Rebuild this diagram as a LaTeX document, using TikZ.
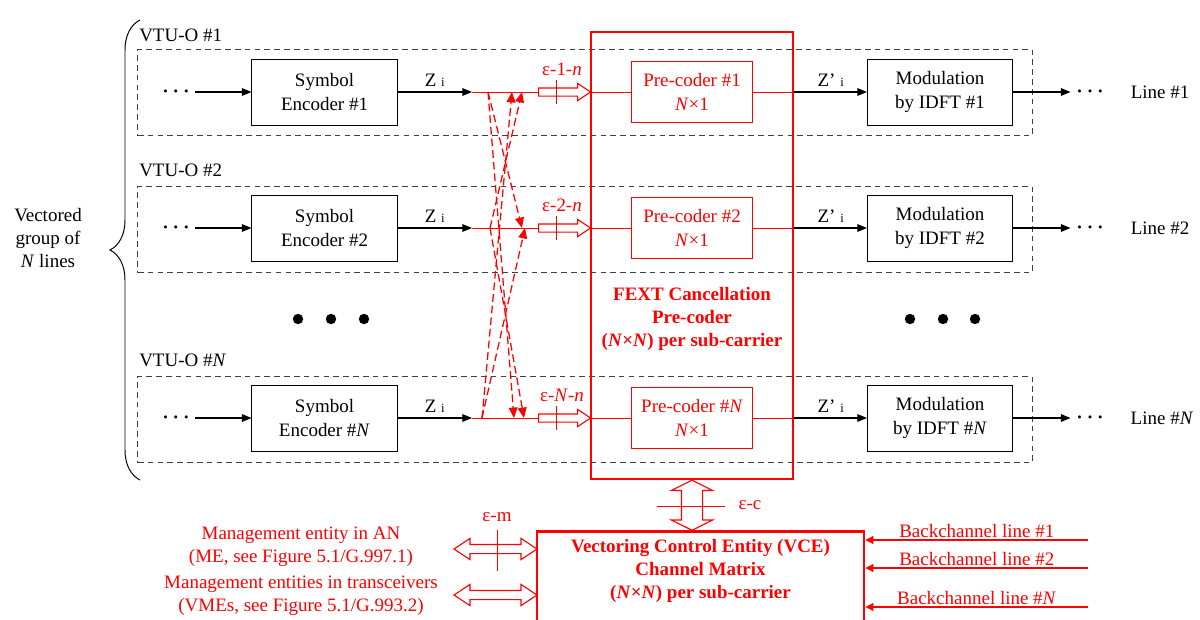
\documentclass[tikz,border=0pt]{standalone}
\usepackage{fontspec}
\setmainfont{Liberation Serif}
\usetikzlibrary{positioning,arrows.meta,calc,shapes.arrows,decorations.pathreplacing}
\newcommand\figfont{\fontsize{13.5}{16.5}\selectfont}
\newcommand\subi{{\fontsize{9}{10}\selectfont i}}

\begin{document}
\begin{tikzpicture}[
  x=0.025cm, y=-0.025cm,
  font=\figfont,
  box/.style={draw, line width=0.7pt, align=center, inner sep=1pt,
              minimum width=3.625cm, minimum height=1.65cm},
  pcbox/.style={draw=red, text=red, line width=0.9pt, align=center,
                minimum width=3.025cm, minimum height=1.525cm},
  grp/.style={draw=black!75, line width=0.7pt, dash pattern=on 4pt off 3pt,
              minimum width=22.35cm, minimum height=2.15cm},
  bigbox/.style={draw=red, line width=2pt},
  arr/.style={line width=0.8pt, -{Triangle[length=2.4mm, width=1.9mm]}},
  rline/.style={red, line width=0.7pt},
  xarr/.style={red, line width=0.9pt, dash pattern=on 5.5pt off 2.8pt,
               -{Triangle[length=2.6mm, width=2.2mm]}},
  barr/.style={red, line width=0.8pt, -{Triangle[length=2mm, width=2mm]}},
  hollow/.style={single arrow, draw=red, line width=0.8pt, inner xsep=0pt,
                 inner ysep=0.0875cm, single arrow head extend=0.1125cm,
                 single arrow tip angle=67, minimum height=1.3cm},
  ecarr/.style={double arrow, draw=red, line width=0.8pt, rotate=90,
                inner xsep=0pt, inner ysep=0.25cm, double arrow head extend=0.25cm,
                double arrow tip angle=127, minimum height=1.25cm},
  emarr/.style={double arrow, draw=red, line width=0.8pt, inner xsep=0pt,
                inner ysep=0.1cm, double arrow head extend=0.15cm,
                double arrow tip angle=67, minimum height=2.075cm},
  rtxt/.style={text=red, align=center},
  btxt/.style={text=red, align=center, font=\figfont\bfseries},
  dots/.style={font=\fontsize{14}{14}\selectfont\boldmath, inner sep=4pt}
]
\useasboundingbox (0,0) rectangle (1200,619);
\clip (0,0) rectangle (1200,619);

% Vectored group brace and its label.
\draw[decorate, decoration={brace, amplitude=0.75cm}, line width=0.7pt] (140,480) -- (140,20);
\node[align=center] (vgrp) at (48,238) {Vectored\\group of\\\textit{N} lines};

% Dashed VTU-O frames.
\node[grp] (g1) at (585,92.5) {};
\node[grp] (g2) at (585,229.5) {};
\node[grp] (gN) at (585,419.5) {};
\node[anchor=west, inner sep=0pt] (vtu1) at (139,35) {VTU-O \#1};
\node[anchor=west, inner sep=0pt] (vtu2) at (139,170) {VTU-O \#2};
\node[anchor=west, inner sep=0pt] (vtuN) at (139,360) {VTU-O \#\textit{N}};

% FEXT cancellation pre-coder spans all lines.
\node[bigbox, minimum width=5.05cm, minimum height=11.175cm] (fext) at (692,255.5) {};
\node[btxt] (fexttxt) at (692,319) {FEXT Cancellation\\Pre-coder\\(\textit{N}×\textit{N}) per sub-carrier};

% Line 1.
\node[dots] (in1) at (176,92) {$\cdots$};
\node[box] (enc1) at (324.5,92) {Symbol\\Encoder \#1};
\coordinate (z1) at (472,92);
\node[hollow, anchor=tail] (h1) at (538,92) {};
\node[pcbox] (pc1) at (692,92) {Pre-coder \#1\\\textit{N}×1};
\node[box] (mod1) at (940,92) {Modulation\\by IDFT \#1};
\node[dots] (out1) at (1090,92) {$\cdots$};
\node (line1) at (1160,92) {Line \#1};
\draw[arr] (in1) -- (enc1);
\draw[arr] (enc1.east) -- (z1) node[midway, above] {Z \subi};
\draw[rline] (z1) -- (h1.tail);
\draw[rline] ($(h1.tail)+(18,-12)$) -- ++(0,24);
\node[text=red] (e1) at (562,69) {ε-1-\textit{n}};
\draw[rline] (h1.tip) -- (pc1.west);
\draw[rline] (pc1.east) -- (pc1.east -| fext.east);
\draw[arr] (pc1.east -| fext.east) -- (mod1) node[midway, above] {Z’ \subi};
\draw[arr] (mod1) -- (out1);

% Line 2.
\node[dots] (in2) at (176,228) {$\cdots$};
\node[box] (enc2) at (324.5,228) {Symbol\\Encoder \#2};
\coordinate (z2) at (472,228);
\node[hollow, anchor=tail] (h2) at (538,228) {};
\node[pcbox] (pc2) at (692,228) {Pre-coder \#2\\\textit{N}×1};
\node[box] (mod2) at (940,228) {Modulation\\by IDFT \#2};
\node[dots] (out2) at (1090,228) {$\cdots$};
\node (line2) at (1160,228) {Line \#2};
\draw[arr] (in2) -- (enc2);
\draw[arr] (enc2.east) -- (z2) node[midway, above] {Z \subi};
\draw[rline] (z2) -- (h2.tail);
\draw[rline] ($(h2.tail)+(18,-12)$) -- ++(0,24);
\node[text=red] (e2) at (562,205) {ε-2-\textit{n}};
\draw[rline] (h2.tip) -- (pc2.west);
\draw[rline] (pc2.east) -- (pc2.east -| fext.east);
\draw[arr] (pc2.east -| fext.east) -- (mod2) node[midway, above] {Z’ \subi};
\draw[arr] (mod2) -- (out2);

% Line N.
\node[dots] (inN) at (176,418) {$\cdots$};
\node[box] (encN) at (324.5,418) {Symbol\\Encoder \#\textit{N}};
\coordinate (zN) at (472,418);
\node[hollow, anchor=tail] (hN) at (538,418) {};
\node[pcbox] (pcN) at (692,418) {Pre-coder \#\textit{N}\\\textit{N}×1};
\node[box] (modN) at (940,418) {Modulation\\by IDFT \#\textit{N}};
\node[dots] (outN) at (1090,418) {$\cdots$};
\node (lineN) at (1162,418) {Line \#\textit{N}};
\draw[arr] (inN) -- (encN);
\draw[arr] (encN.east) -- (zN) node[midway, above] {Z \subi};
\draw[rline] (zN) -- (hN.tail);
\draw[rline] ($(hN.tail)+(18,-12)$) -- ++(0,24);
\node[text=red] (eN) at (562,395) {ε-\textit{N}-\textit{n}};
\draw[rline] (hN.tip) -- (pcN.west);
\draw[rline] (pcN.east) -- (pcN.east -| fext.east);
\draw[arr] (pcN.east -| fext.east) -- (modN) node[midway, above] {Z’ \subi};
\draw[arr] (modN) -- (outN);

% Omitted lines.
\fill (298,319) circle (0.13cm) (331,319) circle (0.13cm) (364,319) circle (0.13cm);
\fill (910,319) circle (0.13cm) (943,319) circle (0.13cm) (975,319) circle (0.13cm);

% Crosstalk paths between lines.
\coordinate (x1s) at (488,92);  \coordinate (x1a) at (512,92);  \coordinate (x1b) at (522,92);
\coordinate (x2s) at (490,228); \coordinate (x2a) at (522,228); \coordinate (x2b) at (525,228);
\coordinate (xNs) at (482,418); \coordinate (xNa) at (514,418); \coordinate (xNb) at (524,418);
\draw[xarr] (x1s) -- (x2a);
\draw[xarr] (x1s) -- (xNa);
\draw[xarr] (x2s) -- (x1b);
\draw[xarr] (x2s) -- (xNb);
\draw[xarr] (xNs) -- (x1a);
\draw[xarr] (xNs) -- (x2b);

% Vectoring control entity, open at the bottom edge.
\node[bigbox, minimum width=8.175cm, minimum height=3cm, anchor=north] (vce) at (700.5,530) {};
\node[btxt] (vcetxt) at (700.5,571) {Vectoring Control Entity (VCE)\\Channel Matrix\\(\textit{N}×\textit{N}) per sub-carrier};

% epsilon-c between pre-coder and VCE.
\node[ecarr] (ec) at ($(fext.south)!0.5!(fext.south |- vce.north)$) {};
\draw[rline] ($(ec)+(-35,1)$) -- ++(68,0);
\node[text=red] (eclbl) at (750,505) {ε-c};

% epsilon-m towards management entities.
\node[emarr] (me1) at (495.5,549) {};
\node[emarr] (me2) at (495.5,595) {};
\draw[rline] ($(me1)+(2,-19)$) -- ++(0,41);
\node[text=red] (emlbl) at (497,517) {ε-m};
\node[rtxt] (mgmt1) at (301,547) {Management entity in AN\\(ME, see Figure 5.1/G.997.1)};
\node[rtxt] (mgmt2) at (301,596) {Management entities in transceivers\\(VMEs, see Figure 5.1/G.993.2)};

% Backchannels into the VCE.
\coordinate (bc1) at (1088,540);
\coordinate (bc2) at (1088,568);
\coordinate (bcN) at (1088,607);
\draw[barr] (bc1) -- (bc1 -| vce.east) node[midway, above, inner sep=1pt, text=red] {Backchannel line \#1};
\draw[barr] (bc2) -- (bc2 -| vce.east) node[midway, above, inner sep=1pt, text=red] {Backchannel line \#2};
\draw[barr] (bcN) -- (bcN -| vce.east) node[midway, above, inner sep=1pt, text=red] {Backchannel line \#\textit{N}};
\end{tikzpicture}
\end{document}
